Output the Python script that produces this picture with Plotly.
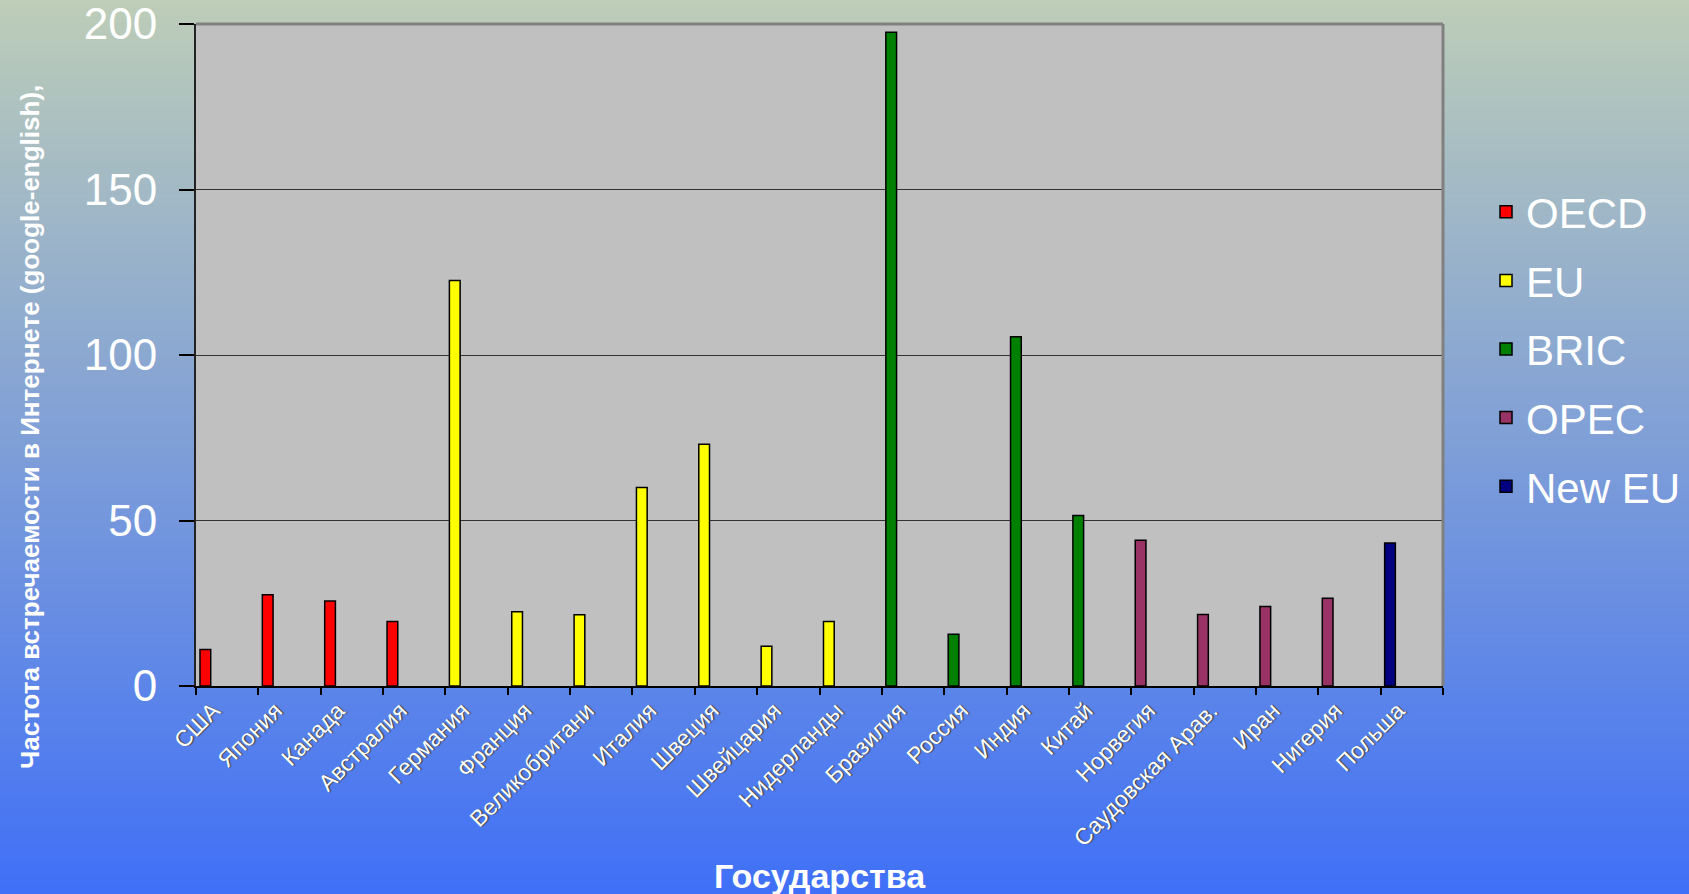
import zlib, struct, base64
import plotly.graph_objects as go

# ---------------- data ----------------
countries = ["США", "Япония", "Канада", "Австралия", "Германия", "Франция",
             "Великобритани", "Италия", "Швеция", "Швейцария", "Нидерланды",
             "Бразилия", "Россия", "Индия", "Китай", "Норвегия",
             "Саудовская Арав.", "Иран", "Нигерия", "Польша"]

oecd_x = ["США", "Япония", "Канада", "Австралия"]
oecd_y = [11, 27.6, 25.7, 19.5]

eu_x = ["Германия", "Франция", "Великобритани", "Италия", "Швеция", "Швейцария", "Нидерланды"]
eu_y = [122.5, 22.4, 21.5, 60, 73, 12, 19.5]

bric_x = ["Бразилия", "Россия", "Индия", "Китай"]
bric_y = [197.5, 15.6, 105.5, 51.5]

opec_x = ["Норвегия", "Саудовская Арав.", "Иран", "Нигерия"]
opec_y = [44, 21.6, 24, 26.5]

neweu_x = ["Польша"]
neweu_y = [43.2]

y_ticks = [0, 50, 100, 150, 200]

# ---------------- layout geometry ----------------
W, H = 1689, 894
L, R, T, B = 196, 246, 24, 208
PW, PH = W - L - R, H - T - B


def gradient_png(h, c0, c1):
    raw = b""
    for i in range(h):
        t = i / (h - 1)
        px = bytes(round(a + (b - a) * t) for a, b in zip(c0, c1))
        raw += b"\x00" + px + px

    def chunk(tag, data):
        return (struct.pack(">I", len(data)) + tag + data
                + struct.pack(">I", zlib.crc32(tag + data) & 0xffffffff))

    ihdr = struct.pack(">IIBBBBB", 2, h, 8, 2, 0, 0, 0)
    png = (b"\x89PNG\r\n\x1a\n" + chunk(b"IHDR", ihdr)
           + chunk(b"IDAT", zlib.compress(raw)) + chunk(b"IEND", b""))
    return "data:image/png;base64," + base64.b64encode(png).decode()


bg_src = gradient_png(256, (189, 205, 184), (64, 112, 247))

fig = go.Figure()

series = [
    ("OECD", oecd_x, oecd_y, "#ff0000"),
    ("EU", eu_x, eu_y, "#ffff00"),
    ("BRIC", bric_x, bric_y, "#008000"),
    ("OPEC", opec_x, opec_y, "#993366"),
    ("New EU", neweu_x, neweu_y, "#000080"),
]
for name, xs, ys, col in series:
    fig.add_trace(go.Bar(
        x=xs, y=ys, name=name, legendgroup=name,
        marker=dict(color=col, line=dict(color="black", width=1.5)),
        offset=-0.436, width=0.172,
    ))

x0p = -L / PW
x1p = (W - L) / PW
y1p = 1 + T / PH
y0p = -B / PH

fig.update_layout(
    width=W, height=H,
    margin=dict(l=L, r=R, t=T, b=B, pad=0, autoexpand=False),
    paper_bgcolor="#7f9ed6",
    plot_bgcolor="#c0c0c0",
    barmode="overlay",
    font=dict(family="Arial, Liberation Sans, sans-serif", color="white"),
    images=[dict(source=bg_src, xref="paper", yref="paper",
                 x=x0p, y=y1p, sizex=x1p - x0p, sizey=y1p - y0p,
                 xanchor="left", yanchor="top", sizing="stretch",
                 layer="below")],
    shapes=[
        dict(type="rect", xref="paper", yref="paper", x0=0, x1=1, y0=0, y1=1,
             fillcolor="#c0c0c0", line=dict(width=0), layer="below"),
        dict(type="line", xref="paper", yref="paper", x0=0, x1=1, y0=1, y1=1,
             line=dict(color="#808080", width=3), layer="above"),
        dict(type="line", xref="paper", yref="paper", x0=1, x1=1, y0=0, y1=1,
             line=dict(color="#808080", width=3), layer="above"),
    ],
    legend=dict(
        x=(1486 - L) / PW, y=(686 - 178) / PH, xanchor="left", yanchor="top",
        font=dict(size=42, color="white"),
        bgcolor="rgba(0,0,0,0)", tracegroupgap=11, traceorder="grouped",
    ),
    xaxis=dict(
        type="category", categoryorder="array", categoryarray=countries,
        tickson="boundaries", ticks="outside", ticklen=7, tickwidth=1.5,
        tickcolor="black", tickangle=-45, automargin=False,
        ticklabelshift=-14, ticklabeloverflow="allow",
        tickfont=dict(size=23, color="white", shadow="1px 1px 1px #444"),
        showline=True, linecolor="black", linewidth=2,
        showgrid=False, range=[-0.5, 19.5],
    ),
    yaxis=dict(
        range=[0, 200], tickvals=y_ticks, ticks="outside", ticklen=15,
        tickwidth=1.5, tickcolor="black", ticklabelstandoff=13, automargin=False,
        ticklabeloverflow="allow",
        tickfont=dict(size=44, color="white"),
        showline=True, linecolor="#222222", linewidth=2,
        showgrid=True, gridcolor="#333333", gridwidth=1.2, zeroline=False,
    ),
    annotations=[
        dict(text="<b>Частота встречаемости в Интернете (google-english),</b>",
             xref="paper", yref="paper", x=(30 - L) / PW, y=(686 - 427) / PH,
             textangle=-90, showarrow=False, xanchor="center", yanchor="middle",
             font=dict(size=26, color="white")),
        dict(text="<b>Государства</b>",
             xref="paper", yref="paper", x=0.5, y=(686 - 876) / PH,
             showarrow=False, xanchor="center", yanchor="middle",
             font=dict(size=34, color="white")),
    ],
)

fig.write_html("out.html")
